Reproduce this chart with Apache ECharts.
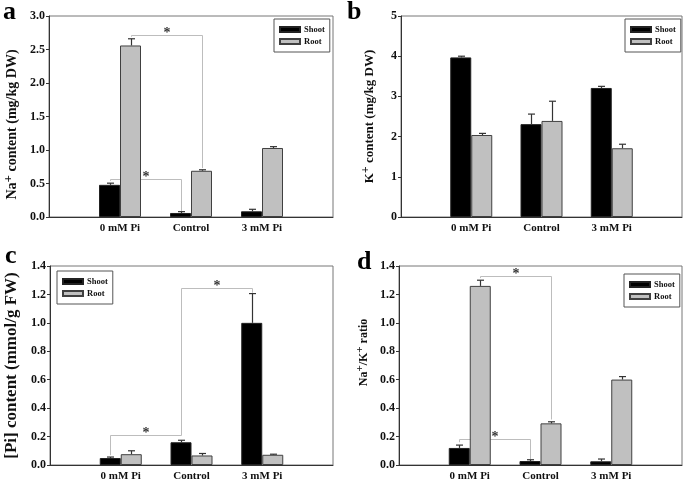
<!DOCTYPE html>
<html>
<head>
<meta charset="utf-8">
<script src="https://cdn.jsdelivr.net/npm/echarts@6/dist/echarts.min.js"></script>
<style>
html,body{margin:0;padding:0;background:#fff;}
#chart{width:685px;height:482px;}
</style>
</head>
<body>
<div id="chart"></div>
<script>
// ---------- data ----------
const categories = ['0 mM Pi', 'Control', '3 mM Pi'];
const seriesNames = ['Shoot', 'Root'];

// (a) Na+ content (mg/kg DW)
const naShoot    = [0.48, 0.06, 0.085];
const naShootErr = [0.025, 0.02, 0.03];
const naRoot     = [2.56, 0.69, 1.03];
const naRootErr  = [0.10, 0.015, 0.02];
const naAxis     = [0, 3, 0.5];

// (b) K+ content (mg/kg DW)
const kShoot    = [3.97, 2.31, 3.21];
const kShootErr = [0.03, 0.25, 0.04];
const kRoot     = [2.04, 2.39, 1.71];
const kRootErr  = [0.04, 0.49, 0.10];
const kAxis     = [0, 5, 1];

// (c) [Pi] content (mmol/g FW)
const piShoot    = [0.049, 0.16, 1.00];
const piShootErr = [0.007, 0.014, 0.206];
const piRoot     = [0.076, 0.067, 0.072];
const piRootErr  = [0.024, 0.014, 0.004];
const piAxis     = [0, 1.4, 0.2];

// (d) Na+/K+ ratio
const ratioShoot    = [0.12, 0.028, 0.026];
const ratioShootErr = [0.02, 0.009, 0.016];
const ratioRoot     = [1.26, 0.293, 0.601];
const ratioRootErr  = [0.04, 0.011, 0.021];
const ratioAxis     = [0, 1.4, 0.2];

// significance brackets: between bar centres, with the level of the bar and the two drops
const naBrackets = [
  {from: '0 mM Pi', to: 'Control', bar: 'Root',  y: 2.71,  yFrom: 2.69,  yTo: 0.73},
  {from: '0 mM Pi', to: 'Control', bar: 'Shoot', y: 0.57,  yFrom: 0.54,  yTo: 0.085}
];
const kBrackets = [];
const piBrackets = [
  {from: '0 mM Pi', to: 'Control', bar: 'Shoot', y: 0.208, yFrom: 0.069, yTo: 0.208},
  {from: 'Control', to: '3 mM Pi', bar: 'Shoot', y: 1.246, yFrom: 0.208, yTo: 1.212}
];
const ratioBrackets = [
  {from: '0 mM Pi', to: 'Control', bar: 'Root',  y: 1.33,  yFrom: 1.315, yTo: 0.32},
  {from: '0 mM Pi', to: 'Control', bar: 'Shoot', y: 0.181, yFrom: 0.16,  yTo: 0.042}
];

// ---------- layout / style ----------
const FONT = '"Liberation Serif", "Times New Roman", serif';
const BAR_W = 21;
const axisCats = [''].concat(categories, ['']);

const panels = [
  {letter: 'a', lx: 3, ly: 12,
   grid: {left: 49, top: 16, width: 284, height: 201},
   axis: naAxis, dec: 1,
   shoot: naShoot, shootErr: naShootErr, root: naRoot, rootErr: naRootErr, brackets: naBrackets,
   name: '{b|Na}{s|+}{b| content (mg/kg DW)}', nameSize: 14, nameGap: 27, namePad: [0, 16, 0, 0],
   legend: {left: 274, top: 19}},
  {letter: 'b', lx: 347, ly: 12,
   grid: {left: 401, top: 16, width: 282, height: 201},
   axis: kAxis, dec: 0,
   shoot: kShoot, shootErr: kShootErr, root: kRoot, rootErr: kRootErr, brackets: kBrackets,
   name: '{b|K}{s|+}{b| content (mg/kg DW)}', nameSize: 13, nameGap: 22, namePad: [0, 0, 0, 0],
   legend: {left: 625, top: 19}},
  {letter: 'c', lx: 5, ly: 256,
   grid: {left: 50, top: 266, width: 283, height: 202},
   axis: piAxis, dec: 1,
   shoot: piShoot, shootErr: piShootErr, root: piRoot, rootErr: piRootErr, brackets: piBrackets,
   name: '{b|[Pi] content (mmol/g FW)}', nameSize: 17, nameGap: 27, namePad: [0, 0, 0, 0],
   legend: {left: 57, top: 271}},
  {letter: 'd', lx: 357, ly: 262,
   grid: {left: 399, top: 266, width: 284, height: 201},
   axis: ratioAxis, dec: 1,
   shoot: ratioShoot, shootErr: ratioShootErr, root: ratioRoot, rootErr: ratioRootErr, brackets: ratioBrackets,
   name: '{b|Na}{s|+}{b|/K}{s|+}{b| ratio}', nameSize: 12, nameGap: 26, namePad: [0, 0, 0, 26],
   legend: {left: 624, top: 274}}
];

function padData(arr) { return ['-'].concat(arr, ['-']); }

function errRender(side) {
  return function (params, api) {
    const x = api.value(0), v = api.value(1), e = api.value(2);
    const base = api.coord([x, v]);
    const top = api.coord([x, v + e]);
    const cx = Math.round(base[0] + side * BAR_W / 2) + 0.5;
    return {
      type: 'group',
      children: [
        {type: 'line', shape: {x1: cx, y1: base[1], x2: cx, y2: top[1]}, style: {stroke: '#333', lineWidth: 1.2}},
        {type: 'line', shape: {x1: cx - 3.5, y1: top[1], x2: cx + 3.5, y2: top[1]}, style: {stroke: '#333', lineWidth: 1.2}}
      ]
    };
  };
}

function bracketRender(params, api) {
  const f = api.value(0), t = api.value(1), y = api.value(2), y0 = api.value(3), y1 = api.value(4), side = api.value(5);
  const pa = api.coord([f, y]), pb = api.coord([t, y]);
  const xa = Math.round(pa[0] + side * BAR_W / 2) + 0.5;
  const xb = Math.round(pb[0] + side * BAR_W / 2) + 0.5;
  const yy = Math.round(pa[1]) + 0.5;
  const ya0 = api.coord([f, y0])[1];
  const yb1 = api.coord([t, y1])[1];
  return {
    type: 'group',
    children: [
      {type: 'polyline', shape: {points: [[xa, ya0], [xa, yy], [xb, yy], [xb, yb1]]},
       style: {stroke: '#bdbdbd', lineWidth: 1, fill: null}},
      {type: 'text', x: (xa + xb) / 2, y: yy - 2,
       style: {text: '*', fill: '#333', font: 'bold 14px ' + FONT, align: 'center', verticalAlign: 'middle'}}
    ]
  };
}

const option = {
  animation: false,
  backgroundColor: '#fff',
  grid: [], xAxis: [], yAxis: [], series: [], legend: [], graphic: []
};

panels.forEach(function (p, i) {
  option.grid.push(Object.assign({show: true, borderColor: '#777', borderWidth: 1, backgroundColor: 'transparent'}, p.grid));
  option.xAxis.push({
    type: 'category', gridIndex: i, data: axisCats, boundaryGap: false,
    axisLine: {lineStyle: {color: '#333', width: 1}},
    axisTick: {show: false},
    axisLabel: {interval: 0, margin: 6, color: '#111', fontFamily: FONT, fontWeight: 'bold', fontSize: 11},
    splitLine: {show: false}
  });
  const sup = Math.round(p.nameSize * 0.9);
  option.yAxis.push({
    type: 'value', gridIndex: i, min: p.axis[0], max: p.axis[1], interval: p.axis[2],
    axisLine: {show: true, lineStyle: {color: '#333', width: 1}},
    axisTick: {show: true, length: 3, lineStyle: {color: '#333'}},
    axisLabel: {margin: 4, color: '#111', fontFamily: FONT, fontWeight: 'bold', fontSize: 12,
      formatter: function (v) { return v.toFixed(p.dec); }},
    splitLine: {show: false},
    name: p.name, nameLocation: 'middle', nameGap: p.nameGap,
    nameTextStyle: {
      padding: p.namePad,
      rich: {
        b: {fontFamily: FONT, fontWeight: 'bold', fontSize: p.nameSize, color: '#111', lineHeight: p.nameSize + 6},
        s: {fontFamily: FONT, fontWeight: 'bold', fontSize: sup, color: '#111', verticalAlign: 'top', lineHeight: sup}
      }
    }
  });
  option.series.push({
    type: 'bar', name: 'Shoot', xAxisIndex: i, yAxisIndex: i, data: padData(p.shoot),
    barWidth: BAR_W, barGap: '0%', z: 3,
    itemStyle: {color: '#000', borderColor: '#222', borderWidth: 1}
  });
  option.series.push({
    type: 'bar', name: 'Root', xAxisIndex: i, yAxisIndex: i, data: padData(p.root),
    barWidth: BAR_W, barGap: '0%', z: 3,
    itemStyle: {color: '#c0c0c0', borderColor: '#404040', borderWidth: 1}
  });
  option.series.push({
    type: 'custom', xAxisIndex: i, yAxisIndex: i, z: 4, renderItem: errRender(-1),
    encode: {x: 0, y: 1},
    data: p.shoot.map(function (v, k) { return [k + 1, v, p.shootErr[k]]; })
  });
  option.series.push({
    type: 'custom', xAxisIndex: i, yAxisIndex: i, z: 4, renderItem: errRender(1),
    encode: {x: 0, y: 1},
    data: p.root.map(function (v, k) { return [k + 1, v, p.rootErr[k]]; })
  });
  if (p.brackets.length) {
    option.series.push({
      type: 'custom', xAxisIndex: i, yAxisIndex: i, z: 1, renderItem: bracketRender,
      encode: {x: [0, 1], y: [2]},
      data: p.brackets.map(function (b) {
        return [categories.indexOf(b.from) + 1, categories.indexOf(b.to) + 1, b.y, b.yFrom, b.yTo, b.bar === 'Shoot' ? -1 : 1];
      })
    });
  }
  option.legend.push({
    data: seriesNames, orient: 'vertical', left: p.legend.left, top: p.legend.top,
    icon: 'rect', itemWidth: 20, itemHeight: 5, itemGap: 3,
    padding: [6, 5, 6, 5], borderColor: '#555', borderWidth: 1, backgroundColor: '#fff',
    selectedMode: false,
    textStyle: {fontFamily: FONT, fontWeight: 'bold', fontSize: 8.5, color: '#111', padding: [0, 0, 0, -1]}
  });
  option.graphic.push({
    type: 'text', x: p.lx, y: p.ly,
    style: {text: p.letter, font: 'bold 26px ' + FONT, fill: '#000', align: 'left', verticalAlign: 'middle'}
  });
});

const chart = echarts.init(document.getElementById('chart'), null, {renderer: 'canvas'});
chart.setOption(option);
</script>
</body>
</html>
